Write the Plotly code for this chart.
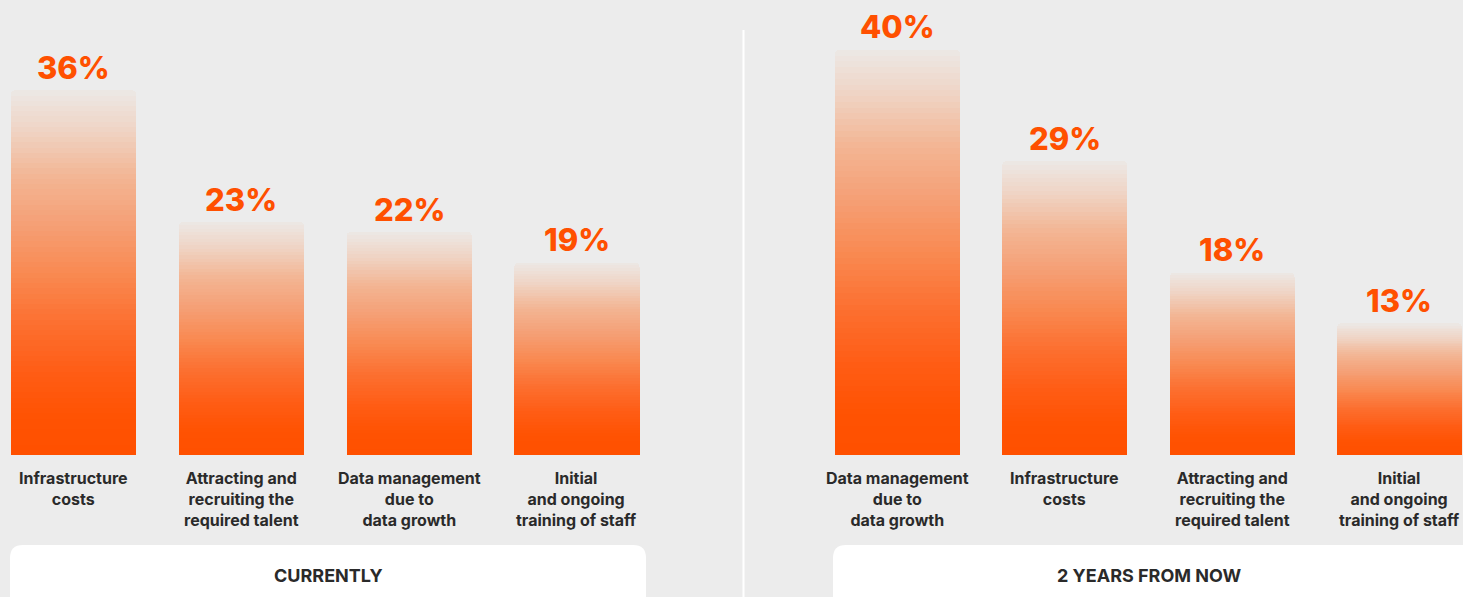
import plotly.graph_objects as go

# ---------------- data ----------------
cur_categories = ["Infrastructure<br>costs",
                  "Attracting and<br>recruiting the<br>required talent",
                  "Data management<br>due to<br>data growth",
                  "Initial<br>and ongoing<br>training of staff"]
cur_values = [36, 23, 22, 19]

fut_categories = ["Data management<br>due to<br>data growth",
                  "Infrastructure<br>costs",
                  "Attracting and<br>recruiting the<br>required talent",
                  "Initial<br>and ongoing<br>training of staff"]
fut_values = [40, 29, 18, 13]

panel_titles = ["CURRENTLY", "2 YEARS FROM NOW"]

# ---------------- style ----------------
W, H = 1463, 597
BG = "#ececec"
ORANGE = "#ff5000"
TEXT = "#2a2a2a"
FONT = "Inter"
N_SEG = 70

# gradient stops: position measured from bottom (0) to top (1)
stops = [(0.00, (255, 80, 0)), (0.10, (255, 82, 2)), (0.22, (255, 92, 20)),
         (0.36, (252, 111, 48)), (0.50, (249, 138, 82)), (0.63, (245, 159, 117)),
         (0.76, (243, 181, 147)), (0.90, (239, 214, 200)), (1.00, (236, 232, 229))]


def grad(t):
    for (p0, c0), (p1, c1) in zip(stops[:-1], stops[1:]):
        if p0 <= t <= p1:
            f = (t - p0) / (p1 - p0) if p1 > p0 else 0
            c = [round(a + (b - a) * f) for a, b in zip(c0, c1)]
            return "rgb({},{},{})".format(*c)
    return "rgb(236,232,229)"


fig = go.Figure()

panels = [(cur_categories, cur_values, "x"), (fut_categories, fut_values, "x2")]
for cats, vals, xa in panels:
    xs = list(range(len(vals)))
    for k in range(N_SEG):
        t = (k + 0.5) / N_SEG
        fig.add_trace(go.Bar(
            x=xs, y=[v / N_SEG for v in vals], xaxis=xa, yaxis="y",
            width=0.746, marker=dict(color=grad(t), line=dict(width=0)),
            hoverinfo="skip", showlegend=False))
    for i, (c, v) in enumerate(zip(cats, vals)):
        fig.add_annotation(x=i, y=v, xref=xa, yref="y", text=f"{v}%",
                           showarrow=False, xanchor="center", yanchor="middle", yshift=23,
                           font=dict(family=FONT, size=31, color=ORANGE, weight=800))
        fig.add_annotation(x=i, y=0, xref=xa, yref="y", text=c,
                           showarrow=False, xanchor="center", yanchor="top", yshift=-11,
                           font=dict(family=FONT, size=16, color=TEXT, weight=700))


def px(x):
    return x / W


def py(y):
    return 1 - y / H


def rounded_rect(x0, y0, x1, y1, r):
    rx, ry = r / W, r / H
    X0, X1, Y0, Y1 = px(x0), px(x1), py(y0), py(y1)
    return (f"M{X0 + rx},{Y0} L{X1 - rx},{Y0} Q{X1},{Y0} {X1},{Y0 - ry} "
            f"L{X1},{Y1 + ry} Q{X1},{Y1} {X1 - rx},{Y1} L{X0 + rx},{Y1} "
            f"Q{X0},{Y1} {X0},{Y1 + ry} L{X0},{Y0 - ry} Q{X0},{Y0} {X0 + rx},{Y0} Z")


shapes = [
    dict(type="path", xref="paper", yref="paper", path=rounded_rect(10, 545, 646, 610, 13),
         fillcolor="white", line=dict(width=0), layer="below"),
    dict(type="path", xref="paper", yref="paper", path=rounded_rect(833, 545, 1480, 610, 13),
         fillcolor="white", line=dict(width=0), layer="below"),
    dict(type="line", xref="paper", yref="paper", x0=px(743.5), x1=px(743.5),
         y0=py(30), y1=0, line=dict(color="white", width=2), layer="below"),
]

for title, cx in zip(panel_titles, [328, 1149]):
    fig.add_annotation(x=px(cx), y=py(575), xref="paper", yref="paper", text=title,
                       showarrow=False, xanchor="center", yanchor="middle",
                       font=dict(family=FONT, size=18, color=TEXT, weight=700))

unit1 = 167.83
c1 = 73.5
unit2 = 167.33
c2 = 897.5
ppu = 10.13
base = 455

fig.update_layout(
    width=W, height=H, margin=dict(l=0, r=0, t=0, b=0),
    paper_bgcolor=BG, plot_bgcolor=BG, barmode="stack", barcornerradius=4,
    showlegend=False, shapes=shapes,
    xaxis=dict(domain=[0, 1], range=[-c1 / unit1, (W - c1) / unit1], visible=False,
               fixedrange=True),
    xaxis2=dict(domain=[0, 1], range=[-c2 / unit2, (W - c2) / unit2], visible=False,
                overlaying="x", fixedrange=True),
    yaxis=dict(domain=[0, 1], range=[-(H - base) / ppu, base / ppu], visible=False,
               fixedrange=True),
)

fig.write_html("out.html")
